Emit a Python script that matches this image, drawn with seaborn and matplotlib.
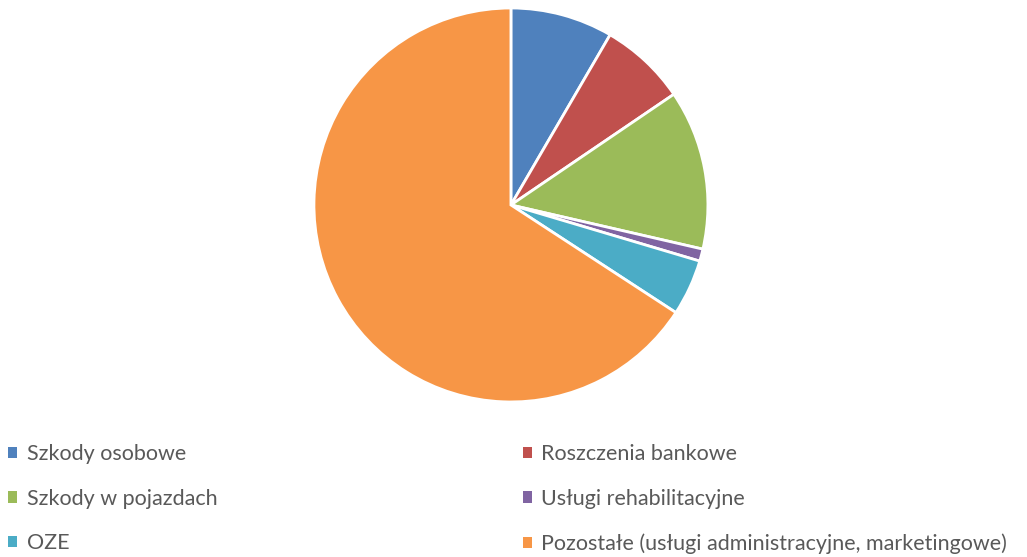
import matplotlib
matplotlib.use("Agg")
import matplotlib.pyplot as plt
from matplotlib.patches import Patch
import seaborn as sns

categories = [
    "Szkody osobowe",
    "Roszczenia bankowe",
    "Szkody w pojazdach",
    "Usługi rehabilitacyjne",
    "OZE",
    "Pozostałe (usługi administracyjne, marketingowe)",
]
shares = [8.4, 7.1, 13.1, 1.0, 4.6, 65.8]
colors = ["#4F81BD", "#C0504D", "#9BBB59", "#8064A2", "#4BACC6", "#F79646"]

sns.set_theme(style="white")
plt.rcParams["font.family"] = ["Lato", "DejaVu Sans"]

fig = plt.figure(figsize=(10.27, 5.57), dpi=100)
ax = fig.add_axes([0.3057, 0.2783, 0.3836, 0.7074])
ax.pie(
    shares,
    colors=colors,
    startangle=90,
    counterclock=False,
    radius=1.0,
    wedgeprops=dict(edgecolor="white", linewidth=2.0),
)
ax.set_xlim(-1, 1)
ax.set_ylim(-1, 1)
ax.set_aspect("equal")
ax.axis("off")

handles = [Patch(facecolor=c, edgecolor="none") for c in colors]
legend_kw = dict(
    frameon=False,
    fontsize=15.5,
    handlelength=0.42,
    handleheight=0.42,
    handletextpad=0.45,
    labelspacing=1.15,
    labelcolor="#595959",
    borderaxespad=0,
    borderpad=0,
)
left = fig.legend(
    [handles[i] for i in (0, 2, 4)],
    [categories[i] for i in (0, 2, 4)],
    loc="upper left",
    bbox_to_anchor=(0.008, 0.203),
    **legend_kw,
)
right = fig.legend(
    [handles[i] for i in (1, 3, 5)],
    [categories[i] for i in (1, 3, 5)],
    loc="upper left",
    bbox_to_anchor=(0.509, 0.203),
    **legend_kw,
)

fig.savefig("out.png", dpi=100)
